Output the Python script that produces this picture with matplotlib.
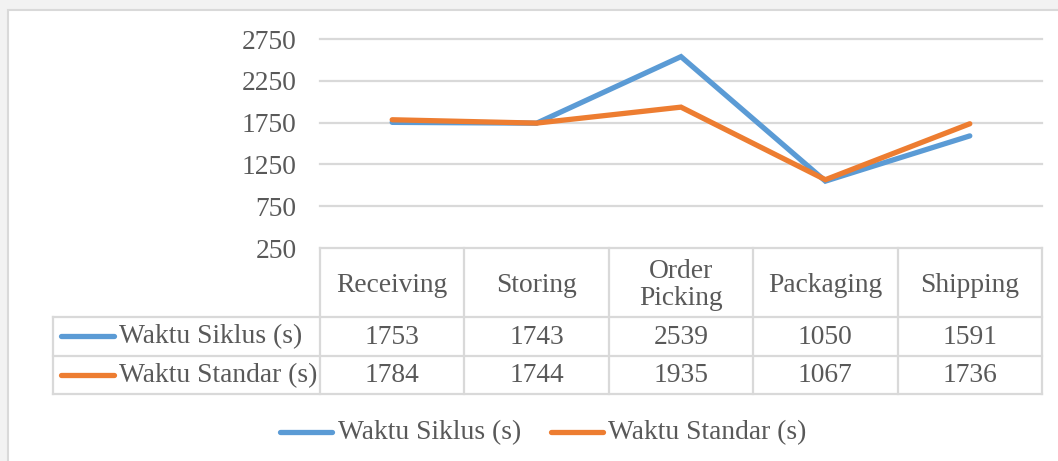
import matplotlib
matplotlib.use("Agg")
import matplotlib.pyplot as plt
import matplotlib.transforms as mtransforms
from matplotlib.lines import Line2D
from matplotlib.patches import Rectangle

categories = ["Receiving", "Storing", "Order\nPicking", "Packaging", "Shipping"]
series_names = ["Waktu Siklus (s)", "Waktu Standar (s)"]
waktu_siklus = [1753, 1743, 2539, 1050, 1591]
waktu_standar = [1784, 1744, 1935, 1067, 1736]
y_ticks = [250, 750, 1250, 1750, 2250, 2750]

W, H = 1058, 461
BLUE = "#5B9BD5"
ORANGE = "#ED7D31"
TXT = "#595959"
GRID = "#D9D9D9"
FONT = "Liberation Serif"
FS = 19.8

plt.rcParams["font.family"] = [FONT, "DejaVu Serif"]

fig = plt.figure(figsize=(W / 100, H / 100), dpi=100, facecolor="#F2F2F2")

def fx(x):
    return x / W

def fy(y):
    return 1 - y / H

# chart area (white with border)
fig.add_artist(Rectangle((fx(8), fy(H + 20)), fx(W + 20), (H + 10) / H,
                         transform=fig.transFigure, facecolor="white",
                         edgecolor=GRID, linewidth=1.5, zorder=0))

x_left, x_right = 320, 1042
y_top, y_bot = 39, 248
ax = fig.add_axes([fx(x_left), fy(y_bot), (x_right - x_left) / W, (y_bot - y_top) / H])
ax.set_facecolor("none")
ax.set_xlim(-0.5, len(categories) - 0.5)
ax.set_ylim(y_ticks[0], y_ticks[-1])
ax.set_yticks(y_ticks)
ax.set_yticklabels([str(v) for v in y_ticks], fontsize=FS, color=TXT, family=FONT)
ax.tick_params(axis="y", length=0, pad=17)
ax.set_xticks([])
for s in ax.spines.values():
    s.set_visible(False)
for v in y_ticks[1:]:
    ax.axhline(v, color=GRID, lw=1.6, zorder=1, clip_on=False)

xs = list(range(len(categories)))
ax.plot(xs, waktu_siklus, color=BLUE, lw=3.8, solid_capstyle="round",
        solid_joinstyle="miter", zorder=3, clip_on=False)
ax.plot(xs, waktu_standar, color=ORANGE, lw=3.8, solid_capstyle="round",
        solid_joinstyle="miter", zorder=4, clip_on=False)

# data table
bt = mtransforms.blended_transform_factory(ax.transData, fig.transFigure)
row_y = [248, 317, 356, 394]
n = len(categories)

def hline(x0_fig, y):
    fig.add_artist(Line2D([fx(x0_fig), fx(x_right)], [fy(y), fy(y)],
                          transform=fig.transFigure, color=GRID, lw=1.6))

hline(x_left, row_y[0])
for y in row_y[1:]:
    hline(53, y)
for i in range(n + 1):
    fig.add_artist(Line2D([i - 0.5, i - 0.5], [fy(row_y[0]), fy(row_y[3])],
                          transform=bt, color=GRID, lw=1.6))
fig.add_artist(Line2D([fx(53), fx(53)], [fy(row_y[1]), fy(row_y[3])],
                      transform=fig.transFigure, color=GRID, lw=1.6))

for i, c in enumerate(categories):
    fig.text(i, fy(285), c, transform=bt, ha="center", va="center",
             fontsize=FS, color=TXT, linespacing=1.12)

rows = [waktu_siklus, waktu_standar]
colors = [BLUE, ORANGE]
row_centers = [337, 376]
for r, (vals, col, name) in enumerate(zip(rows, colors, series_names)):
    yc = row_centers[r]
    fig.add_artist(Line2D([fx(61), fx(114)], [fy(yc - 1), fy(yc - 1)],
                          transform=fig.transFigure, color=col, lw=3.8,
                          solid_capstyle="round"))
    fig.text(fx(119), fy(yc), name, ha="left", va="center", fontsize=FS, color=TXT)
    for i, v in enumerate(vals):
        fig.text(i, fy(yc), str(v), transform=bt, ha="center", va="center",
                 fontsize=FS, color=TXT)

# bottom legend
leg_y = 432
for (x0, x1, tx), col, name in zip([(280, 332, 338), (551, 603, 608)], colors, series_names):
    fig.add_artist(Line2D([fx(x0), fx(x1)], [fy(leg_y), fy(leg_y)],
                          transform=fig.transFigure, color=col, lw=3.8,
                          solid_capstyle="round"))
    fig.text(fx(tx), fy(leg_y + 1), name, ha="left", va="center", fontsize=FS, color=TXT)

fig.savefig("out.png", dpi=100, facecolor=fig.get_facecolor())
